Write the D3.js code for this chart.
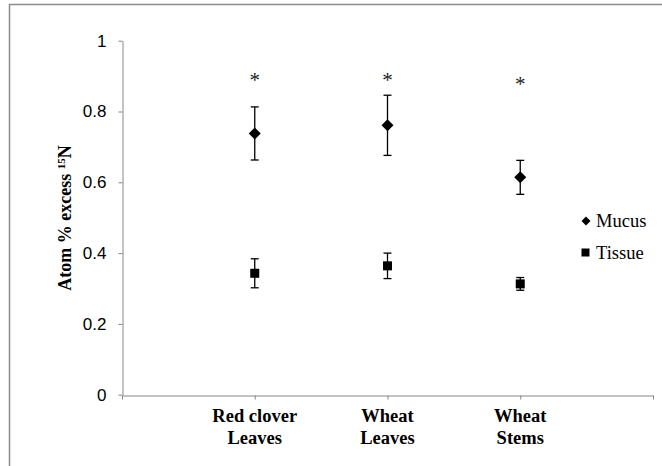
<!DOCTYPE html>
<html>
<head>
<meta charset="utf-8">
<script src="https://cdn.jsdelivr.net/npm/d3@7"></script>
<style>
  body { margin: 0; background: #fff; }
</style>
</head>
<body>
<script>
// data
let categories = [["Red clover", "Leaves"], ["Wheat", "Leaves"], ["Wheat", "Stems"]]
let mucus = [0.738, 0.761, 0.614]
let mucusErr = [0.075, 0.085, 0.048]
let tissue = [0.343, 0.364, 0.313]
let tissueErr = [0.041, 0.036, 0.018]
let stars = [0.9, 0.9, 0.889]
let yTicks = [0, 0.2, 0.4, 0.6, 0.8, 1]

let width = 662, height = 466

let svg = d3.select("body").append("svg")
  .attr("width", width)
  .attr("height", height)

// outer frame (runs off the bottom/right like the original)
svg.append("rect")
  .attr("x", 9.5).attr("y", 4.5)
  .attr("width", 720).attr("height", 520)
  .attr("fill", "none")
  .attr("stroke", "#8c8c8c")
  .attr("stroke-width", 1.5)

let x = d3.scalePoint()
  .domain(d3.range(5))
  .range([122, 653])

let y = d3.scaleLinear()
  .domain([0, 1])
  .range([394.7, 40.7])

// y axis
let yAxis = svg.append("g")
  .attr("transform", "translate(122.5,0)")
  .call(d3.axisLeft(y).tickValues(yTicks).tickFormat(d => d).tickSize(4).tickSizeOuter(0))
yAxis.select(".domain").attr("stroke", "#868686")
yAxis.selectAll(".tick line").attr("stroke", "#868686")
yAxis.selectAll(".tick text")
  .attr("x", -16)
  .attr("fill", "#000")
  .style("font-family", "'Liberation Sans', Arial, sans-serif")
  .style("font-size", "17px")

// x axis
let xAxis = svg.append("g")
  .attr("transform", "translate(0,395.5)")
  .call(d3.axisBottom(x).tickSize(4).tickSizeOuter(0).tickFormat(""))
xAxis.select(".domain").attr("stroke", "#868686")
xAxis.selectAll(".tick line").attr("stroke", "#868686")

let labels = svg.append("g")
  .selectAll("text")
  .data(categories)
  .enter()
  .append("text")
    .attr("x", (d, i) => x(i + 1))
    .attr("y", 421.7)
    .attr("text-anchor", "middle")
    .style("font-family", "'Liberation Serif', 'Times New Roman', serif")
    .style("font-weight", "bold")
    .style("font-size", "18.5px")
labels.append("tspan").attr("x", (d, i) => x(i + 1)).text(d => d[0])
labels.append("tspan").attr("x", (d, i) => x(i + 1)).attr("dy", 22.3).text(d => d[1])

// y title
let title = svg.append("text")
  .attr("transform", "translate(71,218) rotate(-90)")
  .attr("text-anchor", "middle")
  .style("font-family", "'Liberation Serif', 'Times New Roman', serif")
  .style("font-weight", "bold")
  .style("font-size", "18px")
title.append("tspan").text("Atom % excess ")
title.append("tspan").attr("dy", -6).style("font-size", "11px").text("15")
title.append("tspan").attr("dy", 6).text("N")

// error bars
function errorBars(vals, errs) {
  let g = svg.append("g")
  vals.forEach((v, i) => {
    let cx = x(i + 1)
    let top = y(v + errs[i]), bot = y(v - errs[i])
    g.append("line").attr("x1", cx).attr("x2", cx).attr("y1", top).attr("y2", bot)
    g.append("line").attr("x1", cx - 4).attr("x2", cx + 4).attr("y1", top).attr("y2", top)
    g.append("line").attr("x1", cx - 4).attr("x2", cx + 4).attr("y1", bot).attr("y2", bot)
  })
  g.selectAll("line").attr("stroke", "#000").attr("stroke-width", 1.3)
}
errorBars(mucus, mucusErr)
errorBars(tissue, tissueErr)

let diamond = "M0,-6L6,0L0,6L-6,0Z"

svg.append("g")
  .selectAll("path")
  .data(mucus)
  .enter()
  .append("path")
    .attr("d", diamond)
    .attr("transform", (d, i) => `translate(${x(i + 1)},${y(d)})`)
    .attr("fill", "#000")

svg.append("g")
  .selectAll("rect")
  .data(tissue)
  .enter()
  .append("rect")
    .attr("x", (d, i) => x(i + 1) - 4.5)
    .attr("y", d => y(d) - 4.5)
    .attr("width", 9)
    .attr("height", 9)
    .attr("fill", "#000")

// significance markers
svg.append("g")
  .selectAll("text")
  .data(stars)
  .enter()
  .append("text")
    .attr("x", (d, i) => x(i + 1))
    .attr("y", d => y(d) + 11)
    .attr("text-anchor", "middle")
    .attr("fill", "#222")
    .style("font-family", "'Liberation Serif', 'Times New Roman', serif")
    .style("font-size", "21px")
    .text("*")

// legend
let legend = svg.append("g")
  .style("font-family", "'Liberation Serif', 'Times New Roman', serif")
  .style("font-size", "18.5px")
legend.append("path")
  .attr("d", "M0,-4.5L4.5,0L0,4.5L-4.5,0Z")
  .attr("transform", "translate(586,221)")
legend.append("text").attr("x", 596).attr("y", 227).text("Mucus")
legend.append("rect").attr("x", 581.5).attr("y", 248.5).attr("width", 8).attr("height", 8)
legend.append("text").attr("x", 596).attr("y", 259).text("Tissue")
</script>
</body>
</html>
